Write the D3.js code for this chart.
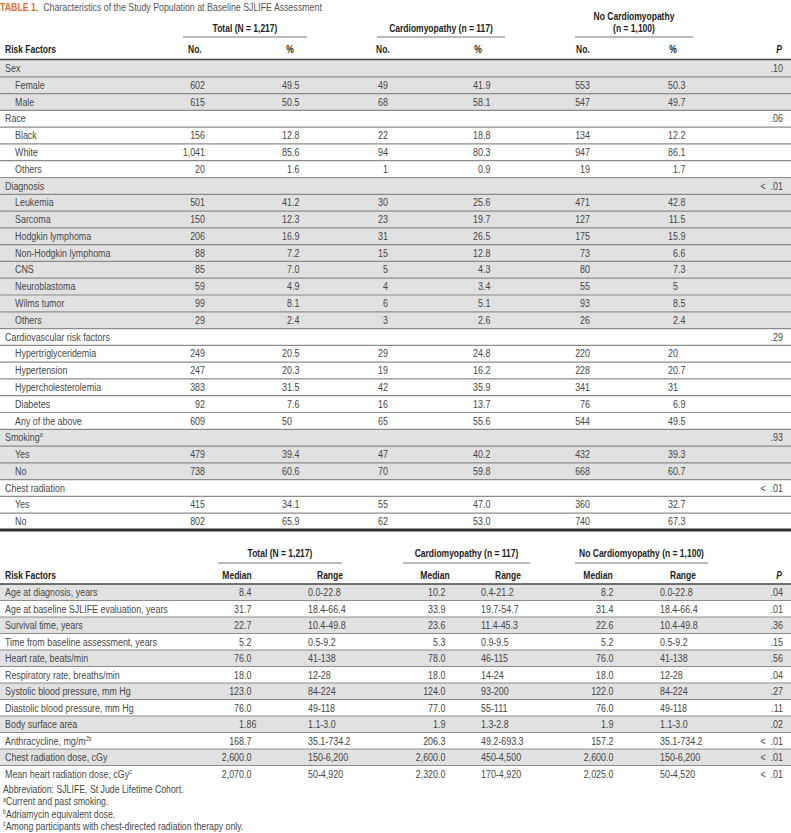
<!DOCTYPE html>
<html>
<head>
<meta charset="utf-8">
<title>Table 1</title>
<style>
  body { margin: 0; background: #fff; overflow: hidden; }
  text { font-family: "Liberation Sans", Arial, sans-serif; }
  .body { font-size: 11px; fill: #474747; }
  .head { font-size: 10.5px; font-weight: bold; fill: #222; }
  .foot { font-size: 10.8px; fill: #474747; }
</style>
<script src="https://d3js.org/d3.v7.min.js"></script>
</head>
<body>
<svg width="791" height="833"></svg>
<script>
// ---------- data: top table (counts) ----------
const topGroups = ['Sex', 'Race', 'Diagnosis', 'Cardiovascular risk factors', 'Smoking', 'Chest radiation'];
const topGroupSup = ['', '', '', '', 'a', ''];
const topP = ['.10', '.06', '< .01', '.29', '.93', '< .01'];
const topItems = [
  ['Female', 'Male'],
  ['Black', 'White', 'Others'],
  ['Leukemia', 'Sarcoma', 'Hodgkin lymphoma', 'Non-Hodgkin lymphoma', 'CNS', 'Neuroblastoma', 'Wilms tumor', 'Others'],
  ['Hypertriglyceridemia', 'Hypertension', 'Hypercholesterolemia', 'Diabetes', 'Any of the above'],
  ['Yes', 'No'],
  ['Yes', 'No']
];
const totalNo    = ['602','615','156','1,041','20','501','150','206','88','85','59','99','29','249','247','383','92','609','479','738','415','802'];
const totalPct   = ['49.5','50.5','12.8','85.6','1.6','41.2','12.3','16.9','7.2','7.0','4.9','8.1','2.4','20.5','20.3','31.5','7.6','50','39.4','60.6','34.1','65.9'];
const cardioNo   = ['49','68','22','94','1','30','23','31','15','5','4','6','3','29','19','42','16','65','47','70','55','62'];
const cardioPct  = ['41.9','58.1','18.8','80.3','0.9','25.6','19.7','26.5','12.8','4.3','3.4','5.1','2.6','24.8','16.2','35.9','13.7','55.6','40.2','59.8','47.0','53.0'];
const noCardioNo = ['553','547','134','947','19','471','127','175','73','80','55','93','26','220','228','341','76','544','432','668','360','740'];
const noCardioPct= ['50.3','49.7','12.2','86.1','1.7','42.8','11.5','15.9','6.6','7.3','5','8.5','2.4','20','20.7','31','6.9','49.5','39.3','60.7','32.7','67.3'];

// ---------- data: bottom table (medians) ----------
const bottomFactors = ['Age at diagnosis, years', 'Age at baseline SJLIFE evaluation, years', 'Survival time, years',
  'Time from baseline assessment, years', 'Heart rate, beats/min', 'Respiratory rate, breaths/min',
  'Systolic blood pressure, mm Hg', 'Diastolic blood pressure, mm Hg', 'Body surface area',
  'Anthracycline, mg/m', 'Chest radiation dose, cGy', 'Mean heart radiation dose, cGy'];
const bottomSup = ['', '', '', '', '', '', '', '', '', '2b', '', 'c'];
const totalMedian    = ['8.4','31.7','22.7','5.2','76.0','18.0','123.0','76.0','1.86','168.7','2,600.0','2,070.0'];
const totalRange     = ['0.0-22.8','18.4-66.4','10.4-49.8','0.5-9.2','41-138','12-28','84-224','49-118','1.1-3.0','35.1-734.2','150-6,200','50-4,920'];
const cardioMedian   = ['10.2','33.9','23.6','5.3','78.0','18.0','124.0','77.0','1.9','206.3','2,600.0','2,320.0'];
const cardioRange    = ['0.4-21.2','19.7-54.7','11.4-45.3','0.9-9.5','46-115','14-24','93-200','55-111','1.3-2.8','49.2-693.3','450-4,500','170-4,920'];
const noCardioMedian = ['8.2','31.4','22.6','5.2','76.0','18.0','122.0','76.0','1.9','157.2','2,600.0','2,025.0'];
const noCardioRange  = ['0.0-22.8','18.4-66.4','10.4-49.8','0.5-9.2','41-138','12-28','84-224','49-118','1.1-3.0','35.1-734.2','150-6,200','50-4,520'];
const bottomP = ['.04','.01','.36','.15','.56','.04','.27','.11','.02','< .01','< .01','< .01'];

const footnotes = [
  {sup: '', text: 'Abbreviation: SJLIFE, St Jude Lifetime Cohort.'},
  {sup: 'a', text: 'Current and past smoking.'},
  {sup: 'b', text: 'Adriamycin equivalent dose.'},
  {sup: 'c', text: 'Among participants with chest-directed radiation therapy only.'}
];

const svg = d3.select('svg');
const W = 791;
const shade = '#e1e1e1';
const rowLine = '#8c8c8c';
const SX = 0.81;   // narrow the font like a condensed face

// text helper: condensed by a horizontal scale around its anchor point
function txt(g, x, y, s, cls, anchor) {
  return g.append('text').attr('class', cls || 'body')
    .attr('transform', `translate(${x},${y}) scale(${SX},1)`)
    .attr('text-anchor', anchor || 'start')
    .text(s);
}

// decimal aligned number
function decimal(g, value, xDec, y) {
  const i = value.indexOf('.');
  txt(g, xDec, y, i < 0 ? value : value.slice(0, i), 'body', 'end');
  if (i >= 0) txt(g, xDec, y, value.slice(i), 'body', 'start');
}

// P value, right aligned; a leading "<" gets a little extra room
function pValue(g, value, x, y) {
  const t = txt(g, x, y, null, 'body', 'end');
  if (value.startsWith('<')) {
    t.append('tspan').text('<');
    t.append('tspan').attr('dx', 3).text(value.slice(1));
  } else {
    t.text(value);
  }
}

function labelWithSup(sel, label, sup) {
  sel.append('tspan').text(label);
  if (sup) sel.append('tspan').attr('font-size', '6.5px').attr('dy', -4).text(sup);
}

// ---------- title ----------
const title = svg.append('text').attr('transform', `translate(0,11) scale(0.8,1)`).attr('font-size', '11px');
title.append('tspan').attr('font-weight', 'bold').attr('fill', '#e0702f').text('TABLE 1.');
title.append('tspan').attr('fill', '#555').attr('dx', 6).text('Characteristics of the Study Population at Baseline SJLIFE Assessment');

// ---------- top table ----------
const topRows = [];
let itemIdx = 0;
topGroups.forEach((gName, gi) => {
  topRows.push({type: 'group', label: gName, sup: topGroupSup[gi], p: topP[gi], gi});
  topItems[gi].forEach(item => {
    topRows.push({type: 'item', label: item, gi, k: itemIdx});
    itemIdx++;
  });
});

const yTop = d3.scaleBand().domain(d3.range(topRows.length)).range([60, 530]).paddingInner(0);
const topCols = {noTotal: 205, pctTotal: 292, noCardio: 388, pctCardio: 483, noNo: 590, pctNo: 678, p: 783};

const topG = svg.append('g');

topG.selectAll('rect.bg').data(topRows.map((d, i) => ({...d, i})).filter(d => d.gi % 2 === 0))
  .enter().append('rect')
  .attr('x', 0).attr('width', W)
  .attr('y', d => yTop(d.i)).attr('height', yTop.bandwidth())
  .attr('fill', shade);

topG.selectAll('line.sep').data(d3.range(1, topRows.length))
  .enter().append('line')
  .attr('x1', 0).attr('x2', W)
  .attr('y1', i => yTop(i)).attr('y2', i => yTop(i))
  .attr('stroke', rowLine).attr('stroke-width', 1.2);

topRows.forEach((d, i) => {
  const y = yTop(i) + 12;
  const t = txt(topG, d.type === 'group' ? 5 : 15, y, null);
  labelWithSup(t, d.label, d.sup);
  if (d.type === 'group') {
    pValue(topG, d.p, topCols.p, y);
  } else {
    const k = d.k;
    txt(topG, topCols.noTotal, y, totalNo[k], 'body', 'end');
    decimal(topG, totalPct[k], topCols.pctTotal, y);
    txt(topG, topCols.noCardio, y, cardioNo[k], 'body', 'end');
    decimal(topG, cardioPct[k], topCols.pctCardio, y);
    txt(topG, topCols.noNo, y, noCardioNo[k], 'body', 'end');
    decimal(topG, noCardioPct[k], topCols.pctNo, y);
  }
});

// top header
const th = svg.append('g');
const topSpans = [
  {lines: ['Total (N = 1,217)'], x1: 183, x2: 307},
  {lines: ['Cardiomyopathy (n = 117)'], x1: 377, x2: 505},
  {lines: ['No Cardiomyopathy', '(n = 1,100)'], x1: 575, x2: 693}
];
topSpans.forEach(s => {
  const cx = (s.x1 + s.x2) / 2;
  s.lines.forEach((l, li) => {
    txt(th, cx, 32 - (s.lines.length - 1 - li) * 12, l, 'head', 'middle');
  });
  th.append('line').attr('x1', s.x1).attr('x2', s.x2).attr('y1', 37).attr('y2', 37)
    .attr('stroke', '#777').attr('stroke-width', 1);
});
txt(th, 5, 53, 'Risk Factors', 'head');
[[188, 'No.', 'start'], [290, '%', 'middle'], [376, 'No.', 'start'], [478, '%', 'middle'],
 [576, 'No.', 'start'], [673, '%', 'middle']].forEach(([x, t, a]) => txt(th, x, 53, t, 'head', a));
txt(th, 782, 53, 'P', 'head', 'end').attr('font-style', 'italic');
th.append('line').attr('x1', 0).attr('x2', W).attr('y1', 59.5).attr('y2', 59.5).attr('stroke', '#444').attr('stroke-width', 1.5);

// thick separator
svg.append('line').attr('x1', 0).attr('x2', W).attr('y1', 530).attr('y2', 530)
  .attr('stroke', '#333').attr('stroke-width', 3);

// ---------- bottom table ----------
const yBot = d3.scaleBand().domain(d3.range(bottomFactors.length)).range([584, 782]).paddingInner(0);
const botG = svg.append('g');

botG.selectAll('rect.bg').data(d3.range(bottomFactors.length).filter(i => i % 2 === 0))
  .enter().append('rect')
  .attr('x', 0).attr('width', W)
  .attr('y', i => yBot(i)).attr('height', yBot.bandwidth())
  .attr('fill', shade);

botG.selectAll('line.sep').data(d3.range(1, bottomFactors.length))
  .enter().append('line')
  .attr('x1', 0).attr('x2', W)
  .attr('y1', i => yBot(i)).attr('y2', i => yBot(i))
  .attr('stroke', rowLine).attr('stroke-width', 1.2);

const botCols = {medTotal: 244, rngTotal: 308, medCardio: 438, rngCardio: 481, medNo: 606, rngNo: 660, p: 783};
bottomFactors.forEach((f, i) => {
  const y = yBot(i) + 12;
  labelWithSup(txt(botG, 5, y, null), f, bottomSup[i]);
  decimal(botG, totalMedian[i], botCols.medTotal, y);
  txt(botG, botCols.rngTotal, y, totalRange[i]);
  decimal(botG, cardioMedian[i], botCols.medCardio, y);
  txt(botG, botCols.rngCardio, y, cardioRange[i]);
  decimal(botG, noCardioMedian[i], botCols.medNo, y);
  txt(botG, botCols.rngNo, y, noCardioRange[i]);
  pValue(botG, bottomP[i], botCols.p, y);
});

const bh = svg.append('g');
const botSpans = [
  {label: 'Total (N = 1,217)', x1: 218, x2: 342},
  {label: 'Cardiomyopathy (n = 117)', x1: 403, x2: 530},
  {label: 'No Cardiomyopathy (n = 1,100)', x1: 575, x2: 708}
];
botSpans.forEach(s => {
  txt(bh, (s.x1 + s.x2) / 2, 557, s.label, 'head', 'middle');
  bh.append('line').attr('x1', s.x1).attr('x2', s.x2).attr('y1', 563).attr('y2', 563)
    .attr('stroke', '#777').attr('stroke-width', 1);
});
txt(bh, 5, 579, 'Risk Factors', 'head');
[[237, 'Median'], [330, 'Range'], [435, 'Median'], [508, 'Range'], [598, 'Median'], [683, 'Range']]
  .forEach(([x, t]) => txt(bh, x, 579, t, 'head', 'middle'));
txt(bh, 782, 579, 'P', 'head', 'end').attr('font-style', 'italic');
bh.append('line').attr('x1', 0).attr('x2', W).attr('y1', 584).attr('y2', 584).attr('stroke', '#444').attr('stroke-width', 1.5);

// ---------- footnotes ----------
footnotes.forEach((f, i) => {
  const t = txt(svg, 3, 793 + i * 12.3, null, 'foot');
  if (f.sup) t.append('tspan').attr('font-size', '6.5px').attr('dy', -3.5).text(f.sup);
  t.append('tspan').attr('dy', f.sup ? 3.5 : 0).text(f.text);
});
</script>
</body>
</html>
